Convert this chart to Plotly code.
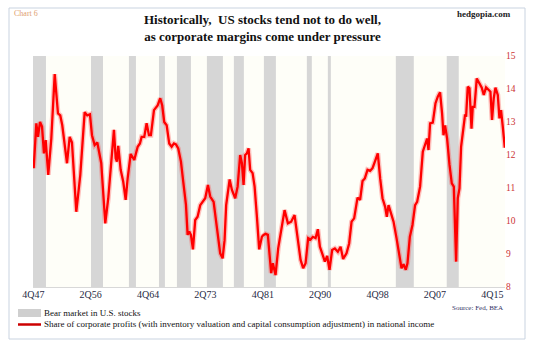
import plotly.graph_objects as go

# Share of corporate profits in national income (%)
years = [1947.85, 1948.23, 1948.47, 1948.76, 1949.05, 1949.33, 1949.58, 1949.95, 1950.39, 1950.88,
         1951.35, 1951.68, 1951.97, 1952.65, 1953.04, 1953.37, 1953.99, 1954.57, 1955.2, 1955.57,
         1955.96, 1956.25, 1956.64, 1957.02, 1957.59, 1958.17, 1958.6, 1958.99, 1959.42, 1959.67,
         1959.85, 1960.04, 1960.39, 1960.76, 1961.11, 1961.4, 1961.83, 1962.35, 1962.84, 1963.17,
         1963.41, 1963.79, 1964.13, 1964.47, 1964.75, 1965.19, 1965.43, 1965.72, 1966.09, 1966.38,
         1966.67, 1967.02, 1967.39, 1967.74, 1968.07, 1968.36, 1968.69, 1969.08, 1969.41, 1969.8,
         1970.04, 1970.27, 1970.52, 1970.81, 1971.14, 1971.48, 1971.86, 1972.25, 1972.58, 1972.97,
         1973.3, 1973.79, 1974.26, 1974.74, 1975.09, 1975.37, 1975.6, 1976.1, 1976.43, 1976.9,
         1977.25, 1977.62, 1977.87, 1978.11, 1978.34, 1978.59, 1978.83, 1979.06, 1979.41, 1979.7,
         1980.03, 1980.36, 1980.75, 1980.99, 1981.28, 1981.61, 1981.86, 1982.09, 1982.33, 1982.72,
         1983.1, 1983.53, 1984.02, 1984.5, 1984.97, 1985.46, 1985.84, 1986.33, 1986.7, 1987.05,
         1987.42, 1987.77, 1988.1, 1988.49, 1988.82, 1989.11, 1989.44, 1989.83, 1990.16, 1990.5,
         1990.88, 1991.27, 1991.7, 1992.09, 1992.46, 1992.95, 1993.33, 1993.68, 1994.05, 1994.54,
         1994.91, 1995.26, 1995.59, 1995.98, 1996.35, 1996.7, 1997.08, 1997.46, 1997.8, 1998.14,
         1998.52, 1998.76, 1999.01, 1999.29, 1999.73, 2000.16, 2000.53, 2000.88, 2001.17, 2001.5,
         2001.74, 2002.08, 2002.46, 2002.84, 2003.13, 2003.56, 2003.95, 2004.28, 2004.57, 2004.77,
         2005.0, 2005.39, 2005.78, 2006.11, 2006.44, 2006.73, 2006.93, 2007.16, 2007.45, 2007.8,
         2008.13, 2008.42, 2008.75, 2008.99, 2009.24, 2009.47, 2009.81, 2010.05, 2010.19, 2010.43,
         2010.68, 2010.97, 2011.15, 2011.4, 2011.73, 2012.12, 2012.45, 2012.74, 2013.07, 2013.46,
         2013.7, 2013.93, 2014.18, 2014.42, 2014.76, 2015.0, 2015.23, 2015.48, 2015.77]
share = [11.6, 12.96, 12.55, 13.0, 12.86, 12.05, 12.45, 11.4, 12.5, 14.45,
         13.26, 13.2, 12.9, 11.75, 12.55, 12.38, 10.28, 11.4, 13.3, 13.2,
         13.23, 12.6, 12.3, 12.38, 11.75, 9.93, 10.69, 11.8, 12.76, 11.9,
         11.8, 12.28, 11.55, 11.19, 10.64, 11.3, 12.03, 11.85, 12.25, 12.35,
         12.55, 12.55, 12.96, 12.6, 12.6, 13.36, 13.41, 13.5, 13.72, 13.5,
         13.0, 12.9, 12.35, 12.25, 12.35, 12.32, 12.2, 11.8, 11.19, 10.5,
         9.58, 9.68, 9.58, 9.14, 10.03, 10.13, 10.48, 10.58, 10.69, 11.09,
         10.74, 10.58, 9.83, 9.02, 8.87, 9.42, 10.48, 11.26, 10.94, 10.69,
         11.04, 12.0, 11.75, 11.09, 12.0, 12.05, 12.2, 11.55, 11.45, 11.04,
         10.13, 9.14, 9.52, 9.58, 9.61, 9.58, 8.97, 8.42, 8.72, 8.36,
         9.17, 9.73, 10.33, 9.93, 9.98, 10.18, 9.52, 8.82, 8.57, 8.72,
         9.48, 9.44, 9.52, 9.48, 9.75, 9.22, 9.02, 8.77, 8.94, 8.52,
         9.12, 9.17, 9.07, 9.22, 8.85, 9.02, 9.32, 9.98, 10.08, 10.71,
         10.64, 11.21, 11.29, 11.55, 11.52, 11.6, 11.82, 12.05, 11.29, 10.69,
         10.43, 10.13, 10.48, 10.28, 9.98, 9.48, 8.97, 8.57, 8.69, 8.52,
         8.72, 9.52, 9.88, 10.48, 10.58, 11.04, 12.1, 12.35, 12.5, 12.15,
         12.96, 12.98, 13.57, 13.77, 13.9, 13.26, 12.6, 12.9, 12.5, 11.7,
         11.14, 11.04, 8.77, 10.69, 10.99, 12.25, 12.76, 13.23, 13.16, 14.07,
         14.02, 12.8, 13.46, 13.46, 14.32, 14.17, 14.04, 13.82, 14.05, 13.97,
         13.92, 13.06, 13.72, 14.04, 13.82, 13.11, 13.36, 12.86, 12.22]

# Bear markets in U.S. stocks (start, end) in decimal years
bear_start = [1947.75, 1956.11, 1961.58, 1965.91, 1968.5, 1972.82, 1976.71, 1981.04, 1987.23, 1990.26, 2000.06, 2007.4]
bear_end = [1949.62, 1957.84, 1962.59, 1966.77, 1970.52, 1975.13, 1978.15, 1982.77, 1987.95, 1990.69, 2002.65, 2009.13]

# Category tick labels (every 34 quarters from 4Q47)
tick_labels = ["4Q47", "2Q56", "4Q64", "2Q73", "4Q81", "2Q90", "4Q98", "2Q07", "4Q15"]
tick_quarters = [0, 34, 68, 102, 136, 170, 204, 238, 272]

SERIF = "Liberation Serif, Times New Roman, serif"
RED = "#ff0000"
GREY = "#d6d6d6"

fig = go.Figure()

# glow under the line
fig.add_trace(go.Scatter(x=years, y=share, mode="lines",
                         line=dict(color="rgba(255,80,80,0.35)", width=5),
                         hoverinfo="skip", showlegend=False))
fig.add_trace(go.Scatter(x=years, y=share, mode="lines",
                         line=dict(color=RED, width=2.3), showlegend=False))
# helper trace for the category label axis
fig.add_trace(go.Scatter(x=[tick_quarters[0], tick_quarters[-1]], y=[8, 8], xaxis="x2",
                         mode="markers", marker=dict(opacity=0), hoverinfo="skip", showlegend=False))

shapes = []
for s, e in zip(bear_start, bear_end):
    shapes.append(dict(type="rect", xref="x", yref="paper", x0=s, x1=e, y0=0, y1=1,
                       fillcolor=GREY, line=dict(width=0), layer="below"))

# outer frame
L, R, T, B = 33, 29, 56, 57
W, H = 534, 344
pw, ph = W - L - R, H - T - B
def px_to_paper_x(p):
    return (p - L) / pw
def px_to_paper_y(p):
    return (H - B - p) / ph

shapes.append(dict(type="rect", xref="paper", yref="paper",
                   x0=px_to_paper_x(9), x1=px_to_paper_x(525),
                   y0=px_to_paper_y(339), y1=px_to_paper_y(8),
                   line=dict(color="#c9d3e0", width=1), fillcolor="rgba(0,0,0,0)", layer="below"))

# legend swatches
shapes.append(dict(type="rect", xref="paper", yref="paper",
                   x0=px_to_paper_x(18), x1=px_to_paper_x(41),
                   y0=px_to_paper_y(317), y1=px_to_paper_y(309),
                   fillcolor="#cfcfcf", line=dict(width=0)))
shapes.append(dict(type="line", xref="paper", yref="paper",
                   x0=px_to_paper_x(18), x1=px_to_paper_x(41),
                   y0=px_to_paper_y(324.5), y1=px_to_paper_y(324.5),
                   line=dict(color="#cc0000", width=2.5)))

annotations = [
    dict(text="<b>Historically,  US stocks tend not to do well,<br>as corporate margins come under pressure</b>",
         xref="paper", yref="paper", x=px_to_paper_x(262), y=px_to_paper_y(10),
         xanchor="center", yanchor="top", showarrow=False,
         font=dict(family=SERIF, size=13, color="#111111")),
    dict(text="Chart 6", xref="paper", yref="paper", x=px_to_paper_x(12), y=px_to_paper_y(14),
         xanchor="left", yanchor="middle", showarrow=False,
         font=dict(family=SERIF, size=8, color="#e0a070")),
    dict(text="<b>hedgopia.com</b>", xref="paper", yref="paper", x=px_to_paper_x(513), y=px_to_paper_y(14),
         xanchor="right", yanchor="middle", showarrow=False,
         font=dict(family=SERIF, size=9, color="#222222")),
    dict(text="Source: Fed, BEA", xref="paper", yref="paper", x=px_to_paper_x(505), y=px_to_paper_y(308),
         xanchor="right", yanchor="middle", showarrow=False,
         font=dict(family=SERIF, size=7, color="#333366")),
    dict(text="Bear market in U.S. stocks", xref="paper", yref="paper", x=px_to_paper_x(42), y=px_to_paper_y(313),
         xanchor="left", yanchor="middle", showarrow=False,
         font=dict(family=SERIF, size=9, color="#111111")),
    dict(text="Share of corporate profits (with inventory valuation and capital consumption adjustment) in national income",
         xref="paper", yref="paper", x=px_to_paper_x(42), y=px_to_paper_y(324),
         xanchor="left", yanchor="middle", showarrow=False,
         font=dict(family=SERIF, size=9, color="#111111")),
]

# label axis: first label at the left edge of the plot, last label at px 492
slope = (492 - L) / float(tick_quarters[-1] - tick_quarters[0])
a = tick_quarters[0] - 0.2
b = a + pw / slope

fig.update_layout(
    width=W, height=H,
    margin=dict(l=L, r=R, t=T, b=B),
    paper_bgcolor="#ffffff",
    plot_bgcolor="#fefef8",
    shapes=shapes,
    annotations=annotations,
    showlegend=False,
    xaxis=dict(range=[1947.75, 2015.8], showticklabels=False, ticks="", showgrid=False,
               zeroline=False, showline=True, linecolor="#d8d8d8"),
    xaxis2=dict(range=[a, b], overlaying="x", anchor="y", side="bottom",
                tickvals=tick_quarters, ticktext=tick_labels, ticks="", showgrid=False,
                zeroline=False, showline=False, ticklabeloverflow="allow",
                tickfont=dict(family=SERIF, size=10, color="#1f2a44")),
    yaxis=dict(range=[8, 15], dtick=1, side="right", showgrid=False, zeroline=False,
               ticks="", showline=False,
               tickfont=dict(family=SERIF, size=9.5, color="#cc3333")),
)

fig.write_html("out.html")
